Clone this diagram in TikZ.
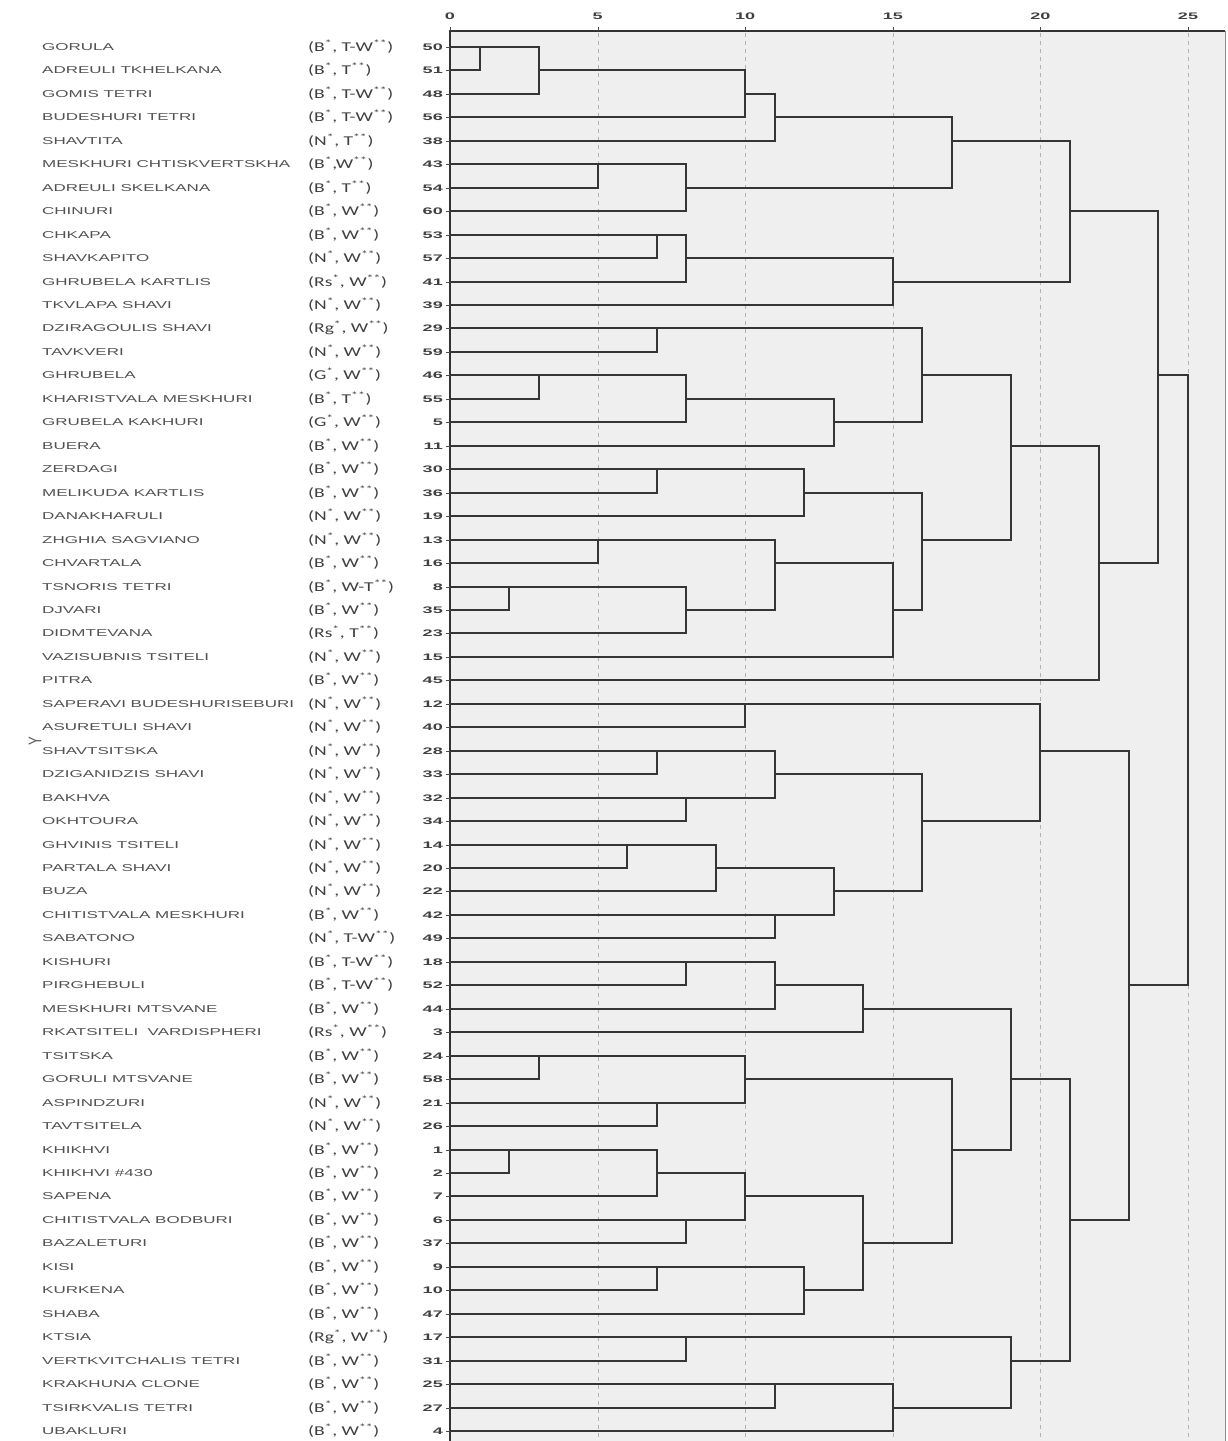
\documentclass[tikz,border=0pt]{standalone}
\usepackage{fontspec}
\usepackage{graphicx}
\setmainfont{Liberation Sans}
\newfontfamily\codefont{Carlito}
\newcommand\stA{\textsuperscript{*}}
\newcommand\stB{\textsuperscript{**}}
\newcommand\wideN[1]{\scalebox{1.7}[1]{#1}}
\newcommand\wideC[1]{\scalebox{1.45}[1]{#1}}
\newcommand\wideD[1]{\scalebox{1.9}[1]{#1}}
\definecolor{plotbg}{HTML}{EFEFEF}
\definecolor{dendro}{HTML}{353535}
\tikzset{
  namestyle/.style={anchor=base west, inner sep=0pt, text=black!68, font=\fontsize{10}{10}\selectfont},
  codestyle/.style={anchor=base west, inner sep=0pt, text=black!75, font=\codefont\fontsize{13.5}{13.5}\selectfont},
  numstyle/.style={anchor=base east, inner sep=0pt, text=black!75, font=\bfseries\fontsize{9.5}{9.5}\selectfont},
  axnum/.style={anchor=base, inner sep=0pt, text=black!75, font=\bfseries\fontsize{9.5}{9.5}\selectfont},
  gridline/.style={black!30, dashed, dash pattern=on 4pt off 4pt, line width=1pt},
  axisline/.style={black!80, line width=2pt},
  dend/.style={dendro, line width=2pt, line join=miter},
}
\begin{document}
\begin{tikzpicture}[x=1pt,y=-1pt]
\useasboundingbox (0,0) rectangle (1227,1441);
\fill[white] (0,0) rectangle (1227,1441);
% plot area
\fill[plotbg] (450,31) rectangle (1225,1441);
\foreach \t in {5,10,15,20,25}
  \draw[gridline] ({round(450+29.52*\t)},33) -- ({round(450+29.52*\t)},1441);
\draw[black!45, line width=1pt] (1225,31) -- (1225,1441);
\draw[axisline] (449,31) -- (1225,31);
\draw[axisline] (450,31) -- (450,1441);
\foreach \t in {0,5,10,15,20,25}{
  \draw[black!70, line width=1pt] ({round(450+29.52*\t)},27) -- ({round(450+29.52*\t)},31);
  \node[axnum] (ax\t) at ({450+29.52*\t},19) {\wideD{\t}};
}
% axis title
\node[rotate=90, inner sep=0pt, text=black!65, font=\fontsize{13}{13}\selectfont] (ylab) at (35,741) {\scalebox{1}[1.4]{Y}};
% rows
\foreach \nm/\cd/\nu [count=\i from 0] in {
GORULA/{(B\stA, T-W\stB)}/50,
ADREULI TKHELKANA/{(B\stA, T\stB)}/51,
GOMIS TETRI/{(B\stA, T-W\stB)}/48,
BUDESHURI TETRI/{(B\stA, T-W\stB)}/56,
SHAVTITA/{(N\stA, T\stB)}/38,
MESKHURI CHTISKVERTSKHA/{(B\stA,W\stB)}/43,
ADREULI SKELKANA/{(B\stA, T\stB)}/54,
CHINURI/{(B\stA, W\stB)}/60,
CHKAPA/{(B\stA, W\stB)}/53,
SHAVKAPITO/{(N\stA, W\stB)}/57,
GHRUBELA KARTLIS/{(Rs\stA, W\stB)}/41,
TKVLAPA SHAVI/{(N\stA, W\stB)}/39,
DZIRAGOULIS SHAVI/{(Rg\stA, W\stB)}/29,
TAVKVERI/{(N\stA, W\stB)}/59,
GHRUBELA/{(G\stA, W\stB)}/46,
KHARISTVALA MESKHURI/{(B\stA, T\stB)}/55,
GRUBELA KAKHURI/{(G\stA, W\stB)}/5,
BUERA/{(B\stA, W\stB)}/11,
ZERDAGI/{(B\stA, W\stB)}/30,
MELIKUDA KARTLIS/{(B\stA, W\stB)}/36,
DANAKHARULI/{(N\stA, W\stB)}/19,
ZHGHIA SAGVIANO/{(N\stA, W\stB)}/13,
CHVARTALA/{(B\stA, W\stB)}/16,
TSNORIS TETRI/{(B\stA, W-T\stB)}/8,
DJVARI/{(B\stA, W\stB)}/35,
DIDMTEVANA/{(Rs\stA, T\stB)}/23,
VAZISUBNIS TSITELI/{(N\stA, W\stB)}/15,
PITRA/{(B\stA, W\stB)}/45,
SAPERAVI BUDESHURISEBURI/{(N\stA, W\stB)}/12,
ASURETULI SHAVI/{(N\stA, W\stB)}/40,
SHAVTSITSKA/{(N\stA, W\stB)}/28,
DZIGANIDZIS SHAVI/{(N\stA, W\stB)}/33,
BAKHVA/{(N\stA, W\stB)}/32,
OKHTOURA/{(N\stA, W\stB)}/34,
GHVINIS TSITELI/{(N\stA, W\stB)}/14,
PARTALA SHAVI/{(N\stA, W\stB)}/20,
BUZA/{(N\stA, W\stB)}/22,
CHITISTVALA MESKHURI/{(B\stA, W\stB)}/42,
SABATONO/{(N\stA, T-W\stB)}/49,
KISHURI/{(B\stA, T-W\stB)}/18,
PIRGHEBULI/{(B\stA, T-W\stB)}/52,
MESKHURI MTSVANE/{(B\stA, W\stB)}/44,
RKATSITELI\ \ VARDISPHERI/{(Rs\stA, W\stB)}/3,
TSITSKA/{(B\stA, W\stB)}/24,
GORULI MTSVANE/{(B\stA, W\stB)}/58,
ASPINDZURI/{(N\stA, W\stB)}/21,
TAVTSITELA/{(N\stA, W\stB)}/26,
KHIKHVI/{(B\stA, W\stB)}/1,
KHIKHVI \#430/{(B\stA, W\stB)}/2,
SAPENA/{(B\stA, W\stB)}/7,
CHITISTVALA BODBURI/{(B\stA, W\stB)}/6,
BAZALETURI/{(B\stA, W\stB)}/37,
KISI/{(B\stA, W\stB)}/9,
KURKENA/{(B\stA, W\stB)}/10,
SHABA/{(B\stA, W\stB)}/47,
KTSIA/{(Rg\stA, W\stB)}/17,
VERTKVITCHALIS TETRI/{(B\stA, W\stB)}/31,
KRAKHUNA CLONE/{(B\stA, W\stB)}/25,
TSIRKVALIS TETRI/{(B\stA, W\stB)}/27,
UBAKLURI/{(B\stA, W\stB)}/4}{
  \pgfmathsetmacro\yy{round(47+23.458*\i)}
  \coordinate (L\i) at (450,\yy);
  \node[namestyle] (name\i) at (42,\yy+3.6) {\wideN{\nm}};
  \node[codestyle] (code\i) at (308,\yy+4.4) {\wideC{\cd}};
  \node[numstyle] (num\i) at (443,\yy+3.5) {\wideD{\nu}};
  \draw[black!70, line width=1pt] (446,\yy) -- (L\i);
}
% dendrogram merges: id / child1 / child2 / height / output row
\foreach \m/\ca/\cb/\h/\r in {
1/L0/L1/1/0, 2/M1/L2/3/1, 3/M2/L3/10/2, 4/M3/L4/11/3,
5/L5/L6/5/5, 6/M5/L7/8/6, 7/M4/M6/17/4,
8/L8/L9/7/8, 9/M8/L10/8/9, 10/M9/L11/15/10, 11/M7/M10/21/7,
12/L12/L13/7/12, 13/L14/L15/3/14, 14/M13/L16/8/15, 15/M14/L17/13/16, 16/M12/M15/16/14,
17/L18/L19/7/18, 18/M17/L20/12/19, 19/L21/L22/5/21, 20/L23/L24/2/23, 21/M20/L25/8/24,
22/M19/M21/11/22, 23/M22/L26/15/24, 24/M18/M23/16/21, 25/M16/M24/19/17, 26/M25/L27/22/22,
27/M11/M26/24/14,
28/L28/L29/10/28, 29/L30/L31/7/30, 30/L32/L33/8/32, 31/M29/M30/11/31,
32/L34/L35/6/34, 33/M32/L36/9/35, 34/L37/L38/11/37, 35/M33/M34/13/36, 36/M31/M35/16/33,
37/M28/M36/20/30,
38/L39/L40/8/39, 39/M38/L41/11/40, 40/M39/L42/14/41,
41/L43/L44/3/43, 42/L45/L46/7/45, 43/M41/M42/10/44,
44/L47/L48/2/47, 45/M44/L49/7/48, 46/L50/L51/8/50, 47/M45/M46/10/49,
48/L52/L53/7/52, 49/M48/L54/12/53, 50/M47/M49/14/51, 51/M43/M50/17/47,
52/M40/M51/19/44,
53/L55/L56/8/55, 54/L57/L58/11/57, 55/M54/L59/15/58, 56/M53/M55/19/56,
57/M52/M56/21/50, 58/M37/M57/23/40, 59/M27/M58/25/27}{
  \coordinate (M\m) at ({round(450+29.52*\h)},{round(47+23.458*\r)});
  \draw[dend] (\ca) -- (\ca -| M\m) -- (\cb -| M\m) -- (\cb);
}
\end{tikzpicture}
\end{document}
